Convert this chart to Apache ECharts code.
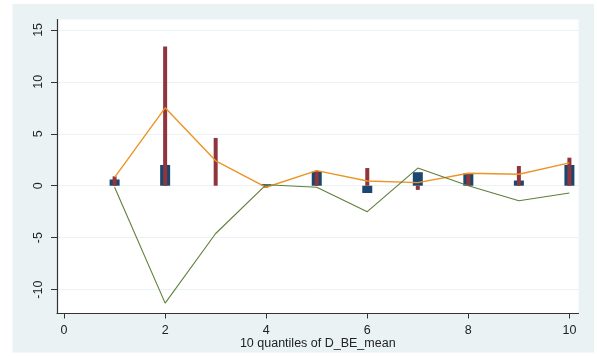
<!DOCTYPE html>
<html>
<head>
<meta charset="utf-8">
<script src="https://cdn.jsdelivr.net/npm/echarts@6/dist/echarts.min.js"></script>
<style>
  html, body { margin: 0; padding: 0; background: #ffffff; }
  #chart { width: 597px; height: 356px; }
</style>
</head>
<body>
<div id="chart"></div>
<script>
// Deciles of D_BE_mean
const quantiles = [1, 2, 3, 4, 5, 6, 7, 8, 9, 10];
// Wide navy bars
const navyBars = [0.6, 2.0, 0.0, 0.15, 1.35, -0.7, 1.3, 1.2, 0.5, 2.0];
// Narrow maroon bars
const maroonBars = [0.9, 13.4, 4.6, -0.2, 1.45, 1.7, -0.4, 1.1, 1.9, 2.7];
// Orange line
const orangeLine = [0.8, 7.5, 2.4, -0.15, 1.45, 0.45, 0.3, 1.2, 1.1, 2.2];
// Green line
const greenLine = [-0.15, -11.3, -4.6, 0.1, -0.15, -2.5, 1.7, 0.0, -1.45, -0.7];
// Tick labels
const xTicks = [0, 2, 4, 6, 8, 10];
const yTicks = [-10, -5, 0, 5, 10, 15];

const pairs = (ys) => quantiles.map((q, i) => [q, ys[i]]);

const chart = echarts.init(document.getElementById('chart'), null, { renderer: 'canvas' });

const FONT = 'Liberation Sans, Arial, sans-serif';
const BG = '#eaf2f3';

const xBase = {
  type: 'value',
  min: -0.14,
  max: 10.18,
  gridIndex: 0
};

chart.setOption({
  animation: false,
  backgroundColor: '#ffffff',
  graphic: [{
    type: 'rect',
    z: -10,
    silent: true,
    shape: { x: 12.5, y: 4, width: 581.5, height: 348.5 },
    style: { fill: BG }
  }],
  grid: {
    left: 57,
    right: 18.5,
    top: 19.5,
    bottom: 42.5,
    containLabel: false,
    outerBoundsMode: 'none',
    show: true,
    backgroundColor: '#ffffff',
    borderWidth: 0
  },
  xAxis: [
    Object.assign({}, xBase, {
      name: '10 quantiles of D_BE_mean',
      nameLocation: 'middle',
      nameGap: 24,
      nameMoveOverlap: false,
      nameTextStyle: { fontFamily: FONT, fontSize: 12.5, color: '#222' },
      axisLine: { show: true, onZero: false, lineStyle: { color: '#333', width: 1.2 } },
      axisTick: { show: true, length: 5, customValues: xTicks, lineStyle: { color: '#333' } },
      axisLabel: { customValues: xTicks, fontFamily: FONT, fontSize: 12.5, color: '#222', margin: 11 },
      splitLine: { show: false }
    }),
    Object.assign({}, xBase, {
      show: false
    })
  ],
  yAxis: {
    type: 'value',
    min: -12.3,
    max: 16,
    axisLine: { show: true, onZero: false, lineStyle: { color: '#333', width: 1.2 } },
    axisTick: { show: true, length: 6, customValues: yTicks, lineStyle: { color: '#333' } },
    axisLabel: { customValues: yTicks, rotate: 90, fontFamily: FONT, fontSize: 12.5, color: '#222', margin: 12 },
    splitLine: { show: true, lineStyle: { color: BG, width: 1 } }
  },
  series: [
    {
      type: 'bar',
      xAxisIndex: 0,
      data: pairs(navyBars),
      barWidth: 10,
      itemStyle: { color: '#1a476f' },
      z: 2
    },
    {
      type: 'bar',
      xAxisIndex: 1,
      data: pairs(maroonBars),
      barWidth: 4,
      itemStyle: { color: '#90353b' },
      z: 3
    },
    {
      type: 'line',
      xAxisIndex: 0,
      data: pairs(orangeLine),
      symbol: 'none',
      lineStyle: { color: '#ec9425', width: 1.4 },
      z: 4
    },
    {
      type: 'line',
      xAxisIndex: 0,
      data: pairs(greenLine),
      symbol: 'none',
      lineStyle: { color: '#5f7f3a', width: 1.1 },
      z: 5
    }
  ]
});
</script>
</body>
</html>
